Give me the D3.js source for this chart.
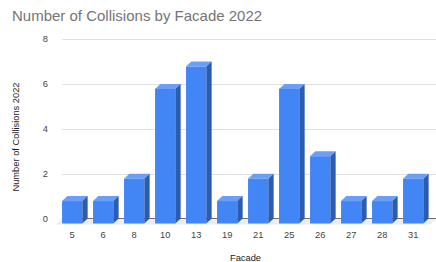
<!DOCTYPE html>
<html>
<head>
<meta charset="utf-8">
<script src="https://cdn.jsdelivr.net/npm/d3@7"></script>
<style>
  body { margin: 0; background: #fff; }
  svg { display: block; font-family: "Liberation Sans", Arial, sans-serif; }
</style>
</head>
<body>
<svg id="chart" width="436" height="262"></svg>
<script>
const facades = ["5", "6", "8", "10", "13", "19", "21", "25", "26", "27", "28", "31"];
const collisions = [1, 1, 2, 6, 7, 1, 2, 6, 3, 1, 1, 2];
const yTicks = [0, 2, 4, 6, 8];

const W = 436, H = 262;
const DX = 5.3, DY = 5; // 3d depth offset

const svg = d3.select("#chart");

// back-plane scales
const x = d3.scaleBand().domain(facades).range([62, 434]).paddingInner(0.345).paddingOuter(0.1725);
const y = d3.scaleLinear().domain([0, 8]).range([218.5, 39]);

// gridlines
svg.append("g").selectAll("line")
  .data(yTicks.filter(d => d > 0))
  .join("line")
  .attr("x1", 62).attr("x2", W)
  .attr("y1", d => Math.round(y(d)) + 0.5).attr("y2", d => Math.round(y(d)) + 0.5)
  .attr("stroke", "#e0e0e0");

// floor
const y0 = y(0);
svg.append("path")
  .attr("d", `M62,${y0}L${W},${y0}L${W - 6},${y0 + 6}L56,${y0 + 6}Z`)
  .attr("fill", "#ededed");
svg.append("line")
  .attr("x1", 62).attr("x2", W)
  .attr("y1", y0).attr("y2", y0)
  .attr("stroke", "#6f6f6f");

// y tick labels
svg.append("g").selectAll("text")
  .data(yTicks)
  .join("text")
  .attr("x", 48).attr("y", d => y(d) + 3.3)
  .attr("text-anchor", "end")
  .attr("font-size", 9.3)
  .attr("fill", "#444")
  .text(d => d);

// bars
const data = facades.map((f, i) => ({ f, v: collisions[i] }));
const bw = x.bandwidth();
const bars = svg.append("g").selectAll("g").data(data).join("g");

bars.append("rect")
  .attr("x", d => x(d.f) - DX)
  .attr("y", d => y(d.v) + DY)
  .attr("width", bw)
  .attr("height", d => y(0) - y(d.v))
  .attr("fill", "#4285f4");

bars.append("path")
  .attr("fill", "#6b9ef7")
  .attr("d", d => {
    const fx = x(d.f) - DX, fy = y(d.v) + DY;
    return `M${fx},${fy}L${fx + bw},${fy}L${fx + bw + DX},${fy - DY}L${fx + DX},${fy - DY}Z`;
  });

bars.append("path")
  .attr("fill", "#2c5cb0")
  .attr("d", d => {
    const fx = x(d.f) - DX, fy = y(d.v) + DY;
    return `M${fx + bw},${fy}L${fx + bw + DX},${fy - DY}L${fx + bw + DX},${y0}L${fx + bw},${y0 + DY}Z`;
  });

// x tick labels
svg.append("g").selectAll("text")
  .data(facades)
  .join("text")
  .attr("x", d => x(d) - DX + bw / 2)
  .attr("y", 238)
  .attr("text-anchor", "middle")
  .attr("font-size", 9.3)
  .attr("fill", "#444")
  .text(d => d);

// titles
svg.append("text")
  .attr("x", 12).attr("y", 21)
  .attr("font-size", 15)
  .attr("fill", "#757575")
  .text("Number of Collisions by Facade 2022");

svg.append("text")
  .attr("transform", "translate(18.5,137) rotate(-90)")
  .attr("text-anchor", "middle")
  .attr("font-size", 9.3)
  .attr("fill", "#222")
  .text("Number of Collisions 2022");

svg.append("text")
  .attr("x", 245.5).attr("y", 260.5)
  .attr("text-anchor", "middle")
  .attr("font-size", 9.3)
  .attr("fill", "#222")
  .text("Facade");
</script>
</body>
</html>
